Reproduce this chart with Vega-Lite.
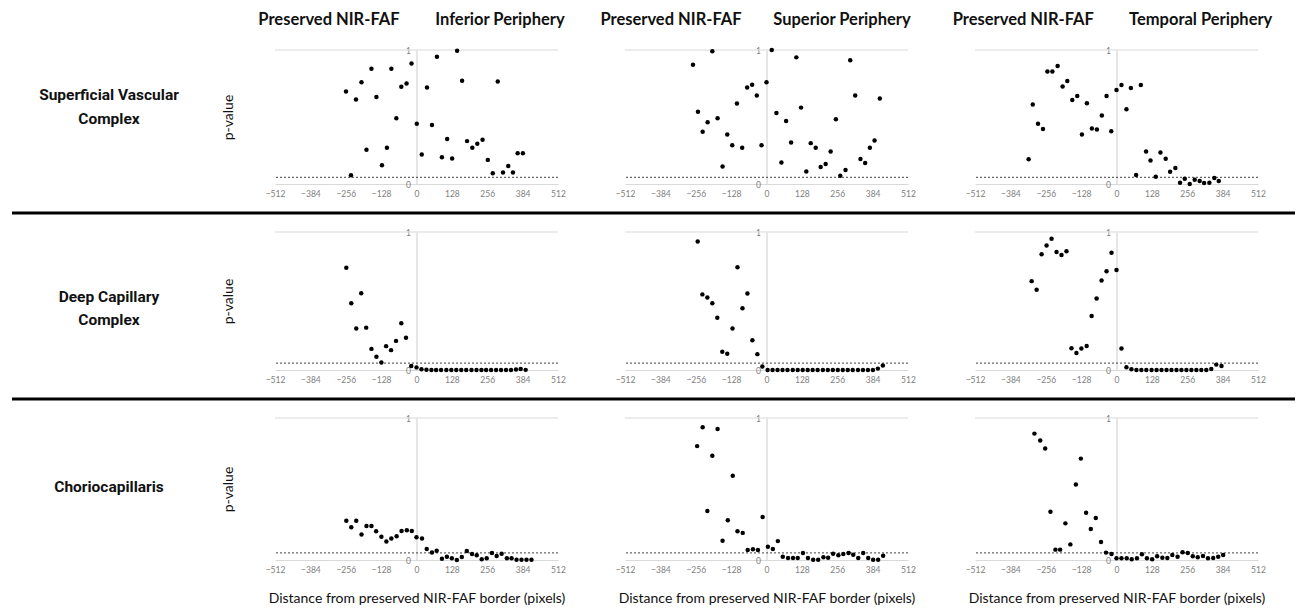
{
  "$schema": "https://vega.github.io/schema/vega-lite/v6.json",
  "padding": {"left": 0, "top": 11, "right": 0, "bottom": 0},
  "spacing": 13,
  "datasets": {
    "si": [{"d":-255,"p":0.69},{"d":-237,"p":0.065},{"d":-219,"p":0.63},{"d":-199,"p":0.76},{"d":-181,"p":0.255},{"d":-163,"p":0.86},{"d":-145,"p":0.65},{"d":-125,"p":0.14},{"d":-107,"p":0.27},{"d":-91,"p":0.86},{"d":-73,"p":0.49},{"d":-55,"p":0.725},{"d":-36,"p":0.75},{"d":-18,"p":0.9},{"d":1,"p":0.45},{"d":19,"p":0.22},{"d":38,"p":0.72},{"d":56,"p":0.44},{"d":74,"p":0.95},{"d":92,"p":0.2},{"d":111,"p":0.335},{"d":129,"p":0.19},{"d":147,"p":0.995},{"d":165,"p":0.77},{"d":183,"p":0.32},{"d":202,"p":0.27},{"d":220,"p":0.3},{"d":239,"p":0.33},{"d":258,"p":0.18},{"d":276,"p":0.08},{"d":294,"p":0.765},{"d":313,"p":0.085},{"d":332,"p":0.135},{"d":349,"p":0.085},{"d":366,"p":0.23},{"d":385,"p":0.23}],
    "ss": [{"d":-266,"p":0.89},{"d":-248,"p":0.54},{"d":-231,"p":0.39},{"d":-213,"p":0.46},{"d":-196,"p":0.99},{"d":-177,"p":0.49},{"d":-159,"p":0.13},{"d":-142,"p":0.37},{"d":-124,"p":0.29},{"d":-107,"p":0.6},{"d":-88,"p":0.27},{"d":-70,"p":0.72},{"d":-52,"p":0.74},{"d":-35,"p":0.66},{"d":-18,"p":0.29},{"d":0,"p":0.76},{"d":19,"p":1.0},{"d":36,"p":0.53},{"d":54,"p":0.16},{"d":71,"p":0.47},{"d":89,"p":0.31},{"d":108,"p":0.945},{"d":125,"p":0.57},{"d":144,"p":0.094},{"d":160,"p":0.305},{"d":178,"p":0.27},{"d":196,"p":0.127},{"d":214,"p":0.149},{"d":232,"p":0.243},{"d":251,"p":0.484},{"d":267,"p":0.062},{"d":286,"p":0.104},{"d":303,"p":0.923},{"d":321,"p":0.66},{"d":340,"p":0.186},{"d":357,"p":0.156},{"d":374,"p":0.27},{"d":391,"p":0.325},{"d":410,"p":0.638}],
    "st": [{"d":-318,"p":0.185},{"d":-303,"p":0.593},{"d":-284,"p":0.449},{"d":-266,"p":0.41},{"d":-250,"p":0.84},{"d":-232,"p":0.84},{"d":-213,"p":0.881},{"d":-195,"p":0.728},{"d":-178,"p":0.768},{"d":-160,"p":0.627},{"d":-142,"p":0.657},{"d":-125,"p":0.37},{"d":-107,"p":0.602},{"d":-89,"p":0.415},{"d":-71,"p":0.407},{"d":-53,"p":0.511},{"d":-36,"p":0.657},{"d":-19,"p":0.393},{"d":0,"p":0.701},{"d":18,"p":0.738},{"d":36,"p":0.558},{"d":52,"p":0.716},{"d":71,"p":0.067},{"d":88,"p":0.738},{"d":107,"p":0.242},{"d":123,"p":0.175},{"d":142,"p":0.054},{"d":159,"p":0.235},{"d":178,"p":0.188},{"d":194,"p":0.091},{"d":213,"p":0.119},{"d":230,"p":0.01},{"d":247,"p":0.04},{"d":265,"p":0.0},{"d":283,"p":0.032},{"d":301,"p":0.022},{"d":317,"p":0.007},{"d":336,"p":0.01},{"d":354,"p":0.044},{"d":370,"p":0.022}],
    "di": [{"d":-254,"p":0.741},{"d":-236,"p":0.484},{"d":-218,"p":0.3},{"d":-200,"p":0.556},{"d":-182,"p":0.307},{"d":-163,"p":0.153},{"d":-145,"p":0.096},{"d":-127,"p":0.055},{"d":-110,"p":0.173},{"d":-92,"p":0.144},{"d":-74,"p":0.211},{"d":-55,"p":0.338},{"d":-38,"p":0.233},{"d":-19,"p":0.029},{"d":0,"p":0.019},{"d":18,"p":0.005},{"d":36,"p":0.002},{"d":54,"p":0},{"d":71,"p":0},{"d":89,"p":0},{"d":108,"p":0},{"d":126,"p":0},{"d":144,"p":0},{"d":162,"p":0},{"d":180,"p":0},{"d":199,"p":0},{"d":217,"p":0},{"d":235,"p":0},{"d":252,"p":0},{"d":270,"p":0},{"d":288,"p":0},{"d":306,"p":0},{"d":324,"p":0},{"d":342,"p":0},{"d":360,"p":0.003},{"d":377,"p":0.007},{"d":395,"p":0.001}],
    "ds": [{"d":-249,"p":0.931},{"d":-232,"p":0.548},{"d":-214,"p":0.526},{"d":-196,"p":0.484},{"d":-178,"p":0.378},{"d":-160,"p":0.133},{"d":-142,"p":0.118},{"d":-123,"p":0.3},{"d":-105,"p":0.744},{"d":-87,"p":0.447},{"d":-69,"p":0.555},{"d":-51,"p":0.216},{"d":-33,"p":0.115},{"d":-15,"p":0.025},{"d":4,"p":0},{"d":22,"p":0},{"d":40,"p":0},{"d":58,"p":0},{"d":76,"p":0},{"d":95,"p":0},{"d":113,"p":0},{"d":131,"p":0},{"d":149,"p":0},{"d":167,"p":0},{"d":185,"p":0},{"d":204,"p":0},{"d":222,"p":0},{"d":240,"p":0},{"d":258,"p":0},{"d":276,"p":0},{"d":294,"p":0},{"d":312,"p":0},{"d":331,"p":0},{"d":349,"p":0},{"d":367,"p":0},{"d":385,"p":0},{"d":403,"p":0.01},{"d":421,"p":0.032}],
    "dt": [{"d":-307,"p":0.644},{"d":-289,"p":0.582},{"d":-271,"p":0.838},{"d":-253,"p":0.902},{"d":-235,"p":0.951},{"d":-217,"p":0.855},{"d":-199,"p":0.833},{"d":-181,"p":0.86},{"d":-163,"p":0.157},{"d":-145,"p":0.123},{"d":-127,"p":0.155},{"d":-108,"p":0.174},{"d":-90,"p":0.391},{"d":-72,"p":0.518},{"d":-54,"p":0.649},{"d":-36,"p":0.715},{"d":-18,"p":0.85},{"d":0,"p":0.725},{"d":18,"p":0.155},{"d":36,"p":0.02},{"d":54,"p":0.005},{"d":72,"p":0},{"d":90,"p":0},{"d":108,"p":0},{"d":127,"p":0},{"d":145,"p":0},{"d":163,"p":0},{"d":181,"p":0},{"d":199,"p":0},{"d":217,"p":0},{"d":235,"p":0},{"d":253,"p":0},{"d":271,"p":0},{"d":289,"p":0},{"d":307,"p":0},{"d":325,"p":0},{"d":343,"p":0.007},{"d":361,"p":0.039},{"d":380,"p":0.029}],
    "ci": [{"d":-254,"p":0.277},{"d":-236,"p":0.23},{"d":-218,"p":0.277},{"d":-199,"p":0.179},{"d":-181,"p":0.24},{"d":-163,"p":0.24},{"d":-146,"p":0.202},{"d":-127,"p":0.163},{"d":-109,"p":0.13},{"d":-91,"p":0.151},{"d":-72,"p":0.167},{"d":-54,"p":0.205},{"d":-35,"p":0.209},{"d":-17,"p":0.205},{"d":0,"p":0.16},{"d":20,"p":0.151},{"d":37,"p":0.077},{"d":56,"p":0.053},{"d":73,"p":0.065},{"d":92,"p":0.009},{"d":110,"p":0.023},{"d":128,"p":0.012},{"d":146,"p":0.0},{"d":164,"p":0.021},{"d":182,"p":0.063},{"d":201,"p":0.042},{"d":218,"p":0.033},{"d":236,"p":0.005},{"d":254,"p":0.012},{"d":273,"p":0.049},{"d":290,"p":0.028},{"d":308,"p":0.044},{"d":327,"p":0.012},{"d":344,"p":0.012},{"d":362,"p":0.002},{"d":380,"p":0.002},{"d":398,"p":0.002},{"d":416,"p":0.002}],
    "cs": [{"d":-251,"p":0.802},{"d":-231,"p":0.935},{"d":-214,"p":0.345},{"d":-196,"p":0.734},{"d":-177,"p":0.923},{"d":-159,"p":0.135},{"d":-140,"p":0.28},{"d":-122,"p":0.594},{"d":-105,"p":0.203},{"d":-86,"p":0.191},{"d":-68,"p":0.07},{"d":-49,"p":0.075},{"d":-31,"p":0.07},{"d":-14,"p":0.303},{"d":5,"p":0.093},{"d":23,"p":0.077},{"d":41,"p":0.133},{"d":59,"p":0.023},{"d":78,"p":0.014},{"d":96,"p":0.014},{"d":113,"p":0.014},{"d":132,"p":0.049},{"d":150,"p":0.014},{"d":169,"p":0.002},{"d":187,"p":0.002},{"d":206,"p":0.019},{"d":223,"p":0.016},{"d":241,"p":0.044},{"d":260,"p":0.033},{"d":278,"p":0.042},{"d":297,"p":0.049},{"d":314,"p":0.037},{"d":332,"p":0.014},{"d":350,"p":0.049},{"d":368,"p":0.014},{"d":386,"p":0.002},{"d":404,"p":0.002},{"d":422,"p":0.03}],
    "ct": [{"d":-297,"p":0.89},{"d":-276,"p":0.841},{"d":-258,"p":0.785},{"d":-239,"p":0.34},{"d":-221,"p":0.073},{"d":-204,"p":0.073},{"d":-185,"p":0.258},{"d":-167,"p":0.11},{"d":-147,"p":0.532},{"d":-129,"p":0.714},{"d":-110,"p":0.333},{"d":-93,"p":0.218},{"d":-75,"p":0.295},{"d":-56,"p":0.126},{"d":-38,"p":0.052},{"d":-18,"p":0.042},{"d":0,"p":0.012},{"d":18,"p":0.012},{"d":37,"p":0.012},{"d":55,"p":0.005},{"d":74,"p":0.012},{"d":92,"p":0.04},{"d":110,"p":0.012},{"d":129,"p":0.005},{"d":147,"p":0.026},{"d":166,"p":0.016},{"d":184,"p":0.014},{"d":202,"p":0.035},{"d":221,"p":0.023},{"d":239,"p":0.054},{"d":258,"p":0.049},{"d":276,"p":0.026},{"d":294,"p":0.019},{"d":313,"p":0.028},{"d":331,"p":0.012},{"d":350,"p":0.014},{"d":368,"p":0.023},{"d":386,"p":0.035}]
  },
  "vconcat": [
    {
      "bounds": "flush", "spacing": 67,
      "hconcat": [
        {"width": 208, "height": 134, "data": {"values": [{"label": "Superficial Vascular\nComplex"}]},
         "mark": {"type": "text", "font": "Roboto", "fontWeight": "bold", "fontSize": 15.5, "lineBreak": "\n", "lineHeight": 24, "align": "center", "baseline": "middle", "color": "#111", "dx": 5, "dy": -22},
         "encoding": {"text": {"field": "label", "type": "nominal"}}},
        {"width": 283, "height": 134, "data": {"name": "si"},
         "title": {"text": "Preserved NIR-FAF\u00a0\u00a0\u00a0\u00a0\u00a0\u00a0\u00a0\u00a0\u00a0Inferior Periphery", "fontSize": 16.5, "fontWeight": "bold", "font": "Lato", "color": "#111", "anchor": "middle", "offset": 18, "dx": -5},
         "layer": [
           {"data": {"values": [{}]}, "mark": {"type": "rule", "color": "#d9d9d9", "strokeWidth": 1}, "encoding": {"y": {"datum": 1, "type": "quantitative", "scale": {"domain": [0, 1], "nice": false}}}},
           {"data": {"values": [{}]}, "mark": {"type": "rule", "color": "#404040", "strokeWidth": 1, "strokeDash": [2, 2]}, "encoding": {"y": {"datum": 0.05, "type": "quantitative", "scale": {"domain": [0, 1], "nice": false}}}},
           {"mark": {"type": "circle", "size": 20, "color": "#000", "opacity": 1},
            "encoding": {
              "x": {"field": "d", "type": "quantitative", "scale": {"domain": [-512, 512], "nice": false}, "axis": {"values": [-512,-384,-256,-128,0,128,256,384,512], "format": "d", "ticks": false, "grid": false, "domainColor": "#d9d9d9", "labelColor": "#808080", "labelFontSize": 8.5, "labelPadding": 5, "labelFlush": false, "labelOverlap": false, "labelSeparation": -50, "title": null}},
              "y": {"field": "p", "type": "quantitative", "scale": {"domain": [0, 1], "nice": false}, "axis": {"values": [0, 1], "format": "d", "offset": -141.5, "ticks": false, "domain": true, "domainColor": "#d9d9d9", "domainWidth": 1.3, "grid": false, "labelColor": "#808080", "labelFontSize": 8.5, "labelPadding": 6, "labelFlush": false, "labelOverlap": false, "title": "p-value", "titleX": -188.5, "titleBaseline": "middle", "titleFontSize": 14, "titleFontWeight": "normal", "titleColor": "#111"}}
            }}
         ]},
        {"width": 283, "height": 134, "data": {"name": "ss"},
         "title": {"text": "Preserved NIR-FAF\u00a0\u00a0\u00a0\u00a0\u00a0\u00a0\u00a0\u00a0Superior Periphery", "fontSize": 16.5, "fontWeight": "bold", "font": "Lato", "color": "#111", "anchor": "middle", "offset": 18, "dx": -11},
         "layer": [
           {"data": {"values": [{}]}, "mark": {"type": "rule", "color": "#d9d9d9", "strokeWidth": 1}, "encoding": {"y": {"datum": 1, "type": "quantitative", "scale": {"domain": [0, 1], "nice": false}}}},
           {"data": {"values": [{}]}, "mark": {"type": "rule", "color": "#404040", "strokeWidth": 1, "strokeDash": [2, 2]}, "encoding": {"y": {"datum": 0.05, "type": "quantitative", "scale": {"domain": [0, 1], "nice": false}}}},
           {"mark": {"type": "circle", "size": 20, "color": "#000", "opacity": 1},
            "encoding": {
              "x": {"field": "d", "type": "quantitative", "scale": {"domain": [-512, 512], "nice": false}, "axis": {"values": [-512,-384,-256,-128,0,128,256,384,512], "format": "d", "ticks": false, "grid": false, "domainColor": "#d9d9d9", "labelColor": "#808080", "labelFontSize": 8.5, "labelPadding": 5, "labelFlush": false, "labelOverlap": false, "labelSeparation": -50, "title": null}},
              "y": {"field": "p", "type": "quantitative", "scale": {"domain": [0, 1], "nice": false}, "axis": {"values": [0, 1], "format": "d", "offset": -141.5, "ticks": false, "domain": true, "domainColor": "#d9d9d9", "domainWidth": 1.3, "grid": false, "labelColor": "#808080", "labelFontSize": 8.5, "labelPadding": 6, "labelFlush": false, "labelOverlap": false, "title": null}}
            }}
         ]},
        {"width": 283, "height": 134, "data": {"name": "st"},
         "title": {"text": "Preserved NIR-FAF\u00a0\u00a0\u00a0\u00a0\u00a0\u00a0\u00a0\u00a0\u00a0Temporal Periphery", "fontSize": 16.5, "fontWeight": "bold", "font": "Lato", "color": "#111", "anchor": "middle", "offset": 18, "dx": -4},
         "layer": [
           {"data": {"values": [{}]}, "mark": {"type": "rule", "color": "#d9d9d9", "strokeWidth": 1}, "encoding": {"y": {"datum": 1, "type": "quantitative", "scale": {"domain": [0, 1], "nice": false}}}},
           {"data": {"values": [{}]}, "mark": {"type": "rule", "color": "#404040", "strokeWidth": 1, "strokeDash": [2, 2]}, "encoding": {"y": {"datum": 0.05, "type": "quantitative", "scale": {"domain": [0, 1], "nice": false}}}},
           {"mark": {"type": "circle", "size": 20, "color": "#000", "opacity": 1},
            "encoding": {
              "x": {"field": "d", "type": "quantitative", "scale": {"domain": [-512, 512], "nice": false}, "axis": {"values": [-512,-384,-256,-128,0,128,256,384,512], "format": "d", "ticks": false, "grid": false, "domainColor": "#d9d9d9", "labelColor": "#808080", "labelFontSize": 8.5, "labelPadding": 5, "labelFlush": false, "labelOverlap": false, "labelSeparation": -50, "title": null}},
              "y": {"field": "p", "type": "quantitative", "scale": {"domain": [0, 1], "nice": false}, "axis": {"values": [0, 1], "format": "d", "offset": -141.5, "ticks": false, "domain": true, "domainColor": "#d9d9d9", "domainWidth": 1.3, "grid": false, "labelColor": "#808080", "labelFontSize": 8.5, "labelPadding": 6, "labelFlush": false, "labelOverlap": false, "title": null}}
            }}
         ]}
      ]
    },
    {
      "bounds": "flush", "spacing": 11,
      "hconcat": [
        {"width": 1, "height": 1, "data": {"values": []}, "mark": {"type": "point"}, "encoding": {}},
        {"width": 1283, "height": 1, "data": {"values": [{}]}, "mark": {"type": "rule", "color": "#000", "strokeWidth": 3}, "encoding": {"y": {"datum": 0, "type": "quantitative", "scale": {"domain": [0, 1]}, "axis": null}}}
      ]
    },
    {
      "bounds": "flush", "spacing": 67,
      "hconcat": [
        {"width": 208, "height": 138, "data": {"values": [{"label": "Deep Capillary\nComplex"}]},
         "mark": {"type": "text", "font": "Roboto", "fontWeight": "bold", "fontSize": 15.5, "lineBreak": "\n", "lineHeight": 23, "align": "center", "baseline": "middle", "color": "#111", "dx": 5, "dy": -4},
         "encoding": {"text": {"field": "label", "type": "nominal"}}},
        {"width": 283, "height": 138, "data": {"name": "di"},
         "layer": [
           {"data": {"values": [{}]}, "mark": {"type": "rule", "color": "#d9d9d9", "strokeWidth": 1}, "encoding": {"y": {"datum": 1, "type": "quantitative", "scale": {"domain": [0, 1], "nice": false}}}},
           {"data": {"values": [{}]}, "mark": {"type": "rule", "color": "#404040", "strokeWidth": 1, "strokeDash": [2, 2]}, "encoding": {"y": {"datum": 0.05, "type": "quantitative", "scale": {"domain": [0, 1], "nice": false}}}},
           {"mark": {"type": "circle", "size": 20, "color": "#000", "opacity": 1},
            "encoding": {
              "x": {"field": "d", "type": "quantitative", "scale": {"domain": [-512, 512], "nice": false}, "axis": {"values": [-512,-384,-256,-128,0,128,256,384,512], "format": "d", "ticks": false, "grid": false, "domainColor": "#d9d9d9", "labelColor": "#808080", "labelFontSize": 8.5, "labelPadding": 5, "labelFlush": false, "labelOverlap": false, "labelSeparation": -50, "title": null}},
              "y": {"field": "p", "type": "quantitative", "scale": {"domain": [0, 1], "nice": false}, "axis": {"values": [0, 1], "format": "d", "offset": -141.5, "ticks": false, "domain": true, "domainColor": "#d9d9d9", "domainWidth": 1.3, "grid": false, "labelColor": "#808080", "labelFontSize": 8.5, "labelPadding": 6, "labelFlush": false, "labelOverlap": false, "title": "p-value", "titleX": -188.5, "titleBaseline": "middle", "titleFontSize": 14, "titleFontWeight": "normal", "titleColor": "#111"}}
            }}
         ]},
        {"width": 283, "height": 138, "data": {"name": "ds"},
         "layer": [
           {"data": {"values": [{}]}, "mark": {"type": "rule", "color": "#d9d9d9", "strokeWidth": 1}, "encoding": {"y": {"datum": 1, "type": "quantitative", "scale": {"domain": [0, 1], "nice": false}}}},
           {"data": {"values": [{}]}, "mark": {"type": "rule", "color": "#404040", "strokeWidth": 1, "strokeDash": [2, 2]}, "encoding": {"y": {"datum": 0.05, "type": "quantitative", "scale": {"domain": [0, 1], "nice": false}}}},
           {"mark": {"type": "circle", "size": 20, "color": "#000", "opacity": 1},
            "encoding": {
              "x": {"field": "d", "type": "quantitative", "scale": {"domain": [-512, 512], "nice": false}, "axis": {"values": [-512,-384,-256,-128,0,128,256,384,512], "format": "d", "ticks": false, "grid": false, "domainColor": "#d9d9d9", "labelColor": "#808080", "labelFontSize": 8.5, "labelPadding": 5, "labelFlush": false, "labelOverlap": false, "labelSeparation": -50, "title": null}},
              "y": {"field": "p", "type": "quantitative", "scale": {"domain": [0, 1], "nice": false}, "axis": {"values": [0, 1], "format": "d", "offset": -141.5, "ticks": false, "domain": true, "domainColor": "#d9d9d9", "domainWidth": 1.3, "grid": false, "labelColor": "#808080", "labelFontSize": 8.5, "labelPadding": 6, "labelFlush": false, "labelOverlap": false, "title": null}}
            }}
         ]},
        {"width": 283, "height": 138, "data": {"name": "dt"},
         "layer": [
           {"data": {"values": [{}]}, "mark": {"type": "rule", "color": "#d9d9d9", "strokeWidth": 1}, "encoding": {"y": {"datum": 1, "type": "quantitative", "scale": {"domain": [0, 1], "nice": false}}}},
           {"data": {"values": [{}]}, "mark": {"type": "rule", "color": "#404040", "strokeWidth": 1, "strokeDash": [2, 2]}, "encoding": {"y": {"datum": 0.05, "type": "quantitative", "scale": {"domain": [0, 1], "nice": false}}}},
           {"mark": {"type": "circle", "size": 20, "color": "#000", "opacity": 1},
            "encoding": {
              "x": {"field": "d", "type": "quantitative", "scale": {"domain": [-512, 512], "nice": false}, "axis": {"values": [-512,-384,-256,-128,0,128,256,384,512], "format": "d", "ticks": false, "grid": false, "domainColor": "#d9d9d9", "labelColor": "#808080", "labelFontSize": 8.5, "labelPadding": 5, "labelFlush": false, "labelOverlap": false, "labelSeparation": -50, "title": null}},
              "y": {"field": "p", "type": "quantitative", "scale": {"domain": [0, 1], "nice": false}, "axis": {"values": [0, 1], "format": "d", "offset": -141.5, "ticks": false, "domain": true, "domainColor": "#d9d9d9", "domainWidth": 1.3, "grid": false, "labelColor": "#808080", "labelFontSize": 8.5, "labelPadding": 6, "labelFlush": false, "labelOverlap": false, "title": null}}
            }}
         ]}
      ]
    },
    {
      "bounds": "flush", "spacing": 11,
      "hconcat": [
        {"width": 1, "height": 1, "data": {"values": []}, "mark": {"type": "point"}, "encoding": {}},
        {"width": 1283, "height": 1, "data": {"values": [{}]}, "mark": {"type": "rule", "color": "#000", "strokeWidth": 3}, "encoding": {"y": {"datum": 0, "type": "quantitative", "scale": {"domain": [0, 1]}, "axis": null}}}
      ]
    },
    {
      "bounds": "flush", "spacing": 67,
      "hconcat": [
        {"width": 208, "height": 142, "data": {"values": [{"label": "Choriocapillaris"}]},
         "mark": {"type": "text", "font": "Roboto", "fontWeight": "bold", "fontSize": 15.5, "lineBreak": "\n", "lineHeight": 23, "align": "center", "baseline": "middle", "color": "#111", "dx": 5, "dy": -2.5},
         "encoding": {"text": {"field": "label", "type": "nominal"}}},
        {"width": 283, "height": 142, "data": {"name": "ci"},
         "layer": [
           {"data": {"values": [{}]}, "mark": {"type": "rule", "color": "#d9d9d9", "strokeWidth": 1}, "encoding": {"y": {"datum": 1, "type": "quantitative", "scale": {"domain": [0, 1], "nice": false}}}},
           {"data": {"values": [{}]}, "mark": {"type": "rule", "color": "#404040", "strokeWidth": 1, "strokeDash": [2, 2]}, "encoding": {"y": {"datum": 0.05, "type": "quantitative", "scale": {"domain": [0, 1], "nice": false}}}},
           {"mark": {"type": "circle", "size": 20, "color": "#000", "opacity": 1},
            "encoding": {
              "x": {"field": "d", "type": "quantitative", "scale": {"domain": [-512, 512], "nice": false}, "axis": {"values": [-512,-384,-256,-128,0,128,256,384,512], "format": "d", "ticks": false, "grid": false, "domainColor": "#d9d9d9", "labelColor": "#808080", "labelFontSize": 8.5, "labelPadding": 5, "labelFlush": false, "labelOverlap": false, "labelSeparation": -50, "title": "Distance from preserved NIR-FAF border (pixels)", "titleFontSize": 14, "titleFontWeight": "normal", "titleColor": "#111", "titlePadding": 18}},
              "y": {"field": "p", "type": "quantitative", "scale": {"domain": [0, 1], "nice": false}, "axis": {"values": [0, 1], "format": "d", "offset": -141.5, "ticks": false, "domain": true, "domainColor": "#d9d9d9", "domainWidth": 1.3, "grid": false, "labelColor": "#808080", "labelFontSize": 8.5, "labelPadding": 6, "labelFlush": false, "labelOverlap": false, "title": "p-value", "titleX": -188.5, "titleBaseline": "middle", "titleFontSize": 14, "titleFontWeight": "normal", "titleColor": "#111"}}
            }}
         ]},
        {"width": 283, "height": 142, "data": {"name": "cs"},
         "layer": [
           {"data": {"values": [{}]}, "mark": {"type": "rule", "color": "#d9d9d9", "strokeWidth": 1}, "encoding": {"y": {"datum": 1, "type": "quantitative", "scale": {"domain": [0, 1], "nice": false}}}},
           {"data": {"values": [{}]}, "mark": {"type": "rule", "color": "#404040", "strokeWidth": 1, "strokeDash": [2, 2]}, "encoding": {"y": {"datum": 0.05, "type": "quantitative", "scale": {"domain": [0, 1], "nice": false}}}},
           {"mark": {"type": "circle", "size": 20, "color": "#000", "opacity": 1},
            "encoding": {
              "x": {"field": "d", "type": "quantitative", "scale": {"domain": [-512, 512], "nice": false}, "axis": {"values": [-512,-384,-256,-128,0,128,256,384,512], "format": "d", "ticks": false, "grid": false, "domainColor": "#d9d9d9", "labelColor": "#808080", "labelFontSize": 8.5, "labelPadding": 5, "labelFlush": false, "labelOverlap": false, "labelSeparation": -50, "title": "Distance from preserved NIR-FAF border (pixels)", "titleFontSize": 14, "titleFontWeight": "normal", "titleColor": "#111", "titlePadding": 18}},
              "y": {"field": "p", "type": "quantitative", "scale": {"domain": [0, 1], "nice": false}, "axis": {"values": [0, 1], "format": "d", "offset": -141.5, "ticks": false, "domain": true, "domainColor": "#d9d9d9", "domainWidth": 1.3, "grid": false, "labelColor": "#808080", "labelFontSize": 8.5, "labelPadding": 6, "labelFlush": false, "labelOverlap": false, "title": null}}
            }}
         ]},
        {"width": 283, "height": 142, "data": {"name": "ct"},
         "layer": [
           {"data": {"values": [{}]}, "mark": {"type": "rule", "color": "#d9d9d9", "strokeWidth": 1}, "encoding": {"y": {"datum": 1, "type": "quantitative", "scale": {"domain": [0, 1], "nice": false}}}},
           {"data": {"values": [{}]}, "mark": {"type": "rule", "color": "#404040", "strokeWidth": 1, "strokeDash": [2, 2]}, "encoding": {"y": {"datum": 0.05, "type": "quantitative", "scale": {"domain": [0, 1], "nice": false}}}},
           {"mark": {"type": "circle", "size": 20, "color": "#000", "opacity": 1},
            "encoding": {
              "x": {"field": "d", "type": "quantitative", "scale": {"domain": [-512, 512], "nice": false}, "axis": {"values": [-512,-384,-256,-128,0,128,256,384,512], "format": "d", "ticks": false, "grid": false, "domainColor": "#d9d9d9", "labelColor": "#808080", "labelFontSize": 8.5, "labelPadding": 5, "labelFlush": false, "labelOverlap": false, "labelSeparation": -50, "title": "Distance from preserved NIR-FAF border (pixels)", "titleFontSize": 14, "titleFontWeight": "normal", "titleColor": "#111", "titlePadding": 18}},
              "y": {"field": "p", "type": "quantitative", "scale": {"domain": [0, 1], "nice": false}, "axis": {"values": [0, 1], "format": "d", "offset": -141.5, "ticks": false, "domain": true, "domainColor": "#d9d9d9", "domainWidth": 1.3, "grid": false, "labelColor": "#808080", "labelFontSize": 8.5, "labelPadding": 6, "labelFlush": false, "labelOverlap": false, "title": null}}
            }}
         ]}
      ]
    }
  ],
  "config": {
    "view": {"stroke": null},
    "axis": {"labelFont": "Lato", "titleFont": "Lato", "labelOverlap": false},
    "title": {"font": "Lato"}
  }
}
